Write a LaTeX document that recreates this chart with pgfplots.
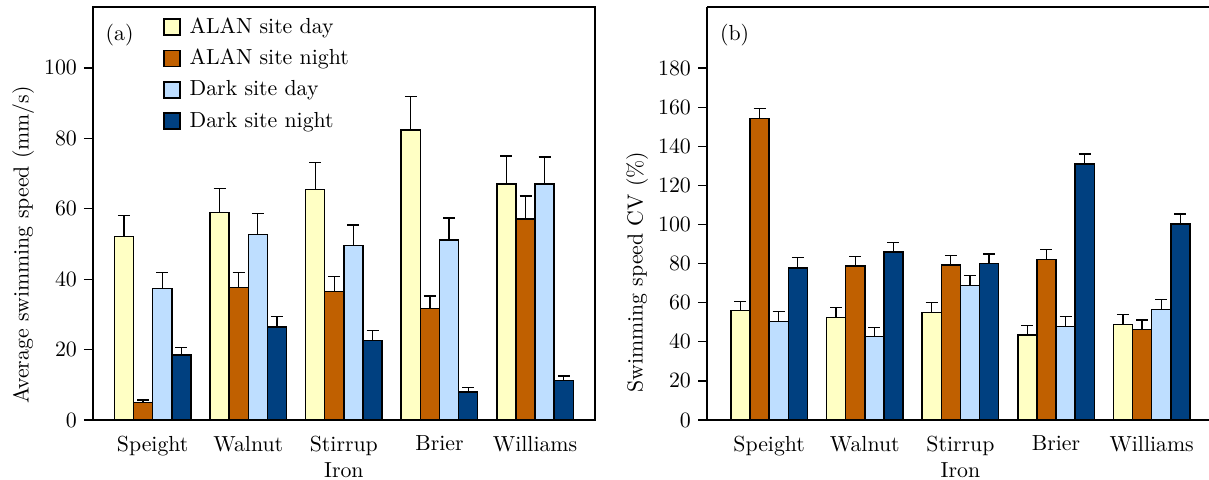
\documentclass[border=0pt]{standalone}
\usepackage{pgfplots}
\pgfplotsset{compat=1.18}
\definecolor{cAD}{RGB}{255,255,196}
\definecolor{cAN}{RGB}{192,96,0}
\definecolor{cDD}{RGB}{190,222,255}
\definecolor{cDN}{RGB}{0,64,128}
\newcommand{\lf}{\fontsize{10.9}{13}\selectfont}
\pgfplotsset{
  mybars/.style={
    scale only axis, width=251pt, height=206.5pt,
    axis line style={line width=0.9pt, black},
    ybar, bar width=0.2, ymin=0,
    xtick={0,1,2,3,4},
    xticklabels={Speight,Walnut,{Stirrup\\Iron},Brier,Williams},
    xticklabel style={align=center},
    x tick style={draw=none},
    y tick style={line width=0.6pt, black},
    tick align=outside, major tick length=4.5pt,
    ytick pos=left, xtick pos=bottom,
    tick label style={font=\lf},
    label style={font=\lf},
    clip=false,
  },
  eb/.style={error bars/.cd, y dir=plus, y explicit,
    error bar style={line width=0.6pt, black},
    error mark options={line width=0.6pt, black, mark size=3pt, rotate=90}},
  sAD/.style={fill=cAD, draw=black, line width=0.75pt, bar shift=-0.3, eb},
  sAN/.style={fill=cAN, draw=black, line width=0.75pt, bar shift=-0.1, eb},
  sDD/.style={fill=cDD, draw=black, line width=0.75pt, bar shift=0.1, eb},
  sDN/.style={fill=cDN, draw=black, line width=0.75pt, bar shift=0.3, eb},
}
\begin{document}
\begin{tikzpicture}
\begin{axis}[mybars, at={(46.5pt,29.5pt)}, anchor=south west,
  xmin=-0.624, xmax=4.627, ymax=117.3,
  ytick={0,20,40,60,80,100},
  ylabel={Average swimming speed (mm/s)},
  ylabel style={at={(axis description cs:-0.139,0.424)}, anchor=center},
  legend cell align=left,
  legend image code/.code={\draw[#1, draw=black, line width=0.75pt] (0pt,-4pt) rectangle (8pt,4pt);},
  legend style={draw=none, fill=none, at={(rel axis cs:0.139,0.985)}, anchor=north west,
    font=\lf, row sep=2.5pt, inner sep=0pt, nodes={inner sep=2pt},
    /tikz/every odd column/.append style={column sep=2.5pt}},
]
\addplot[sAD] coordinates {(0,52.1) +- (0,6.0) (1,58.9) +- (0,6.8) (2,65.4) +- (0,7.7) (3,82.4) +- (0,9.4) (4,67.0) +- (0,8.0)};
\addplot[sAN] coordinates {(0,5.0) +- (0,0.7) (1,37.6) +- (0,4.3) (2,36.5) +- (0,4.2) (3,31.6) +- (0,3.6) (4,57.1) +- (0,6.5)};
\addplot[sDD] coordinates {(0,37.4) +- (0,4.5) (1,52.7) +- (0,6.0) (2,49.6) +- (0,5.8) (3,51.1) +- (0,6.3) (4,67.0) +- (0,7.7)};
\addplot[sDN] coordinates {(0,18.4) +- (0,2.1) (1,26.4) +- (0,3.1) (2,22.6) +- (0,2.8) (3,8.0) +- (0,1.2) (4,11.2) +- (0,1.3)};
\legend{ALAN site day, ALAN site night, Dark site day, Dark site night}
\node[font=\lf] at (rel axis cs:0.053,0.932) {(a)};
\end{axis}
\begin{axis}[mybars, at={(353.5pt,29.5pt)}, anchor=south west,
  axis x line*=box, axis y line*=left,
  xmin=-0.65, xmax=4.60, ymax=211.2,
  ytick={0,20,...,180},
  ylabel={Swimming speed CV (\%)},
  ylabel style={at={(axis description cs:-0.139,0.358)}, anchor=center},
]
\addplot[sAD] coordinates {(0,55.9) +- (0,4.7) (1,52.5) +- (0,5.1) (2,55.0) +- (0,4.9) (3,43.5) +- (0,4.9) (4,48.9) +- (0,4.9)};
\addplot[sAN] coordinates {(0,154.2) +- (0,4.9) (1,78.8) +- (0,5.0) (2,79.3) +- (0,4.8) (3,82.0) +- (0,5.1) (4,46.2) +- (0,4.9)};
\addplot[sDD] coordinates {(0,50.4) +- (0,5.0) (1,42.6) +- (0,4.9) (2,68.8) +- (0,5.1) (3,47.9) +- (0,5.1) (4,56.5) +- (0,5.0)};
\addplot[sDN] coordinates {(0,77.8) +- (0,5.3) (1,85.8) +- (0,4.8) (2,80.0) +- (0,4.9) (3,130.9) +- (0,5.1) (4,100.3) +- (0,5.1)};
\node[font=\lf] at (rel axis cs:0.055,0.931) {(b)};
\end{axis}
\pgfresetboundingbox
\path[use as bounding box] (0,0) rectangle (604.5pt,239.5pt);
\end{tikzpicture}
\end{document}
